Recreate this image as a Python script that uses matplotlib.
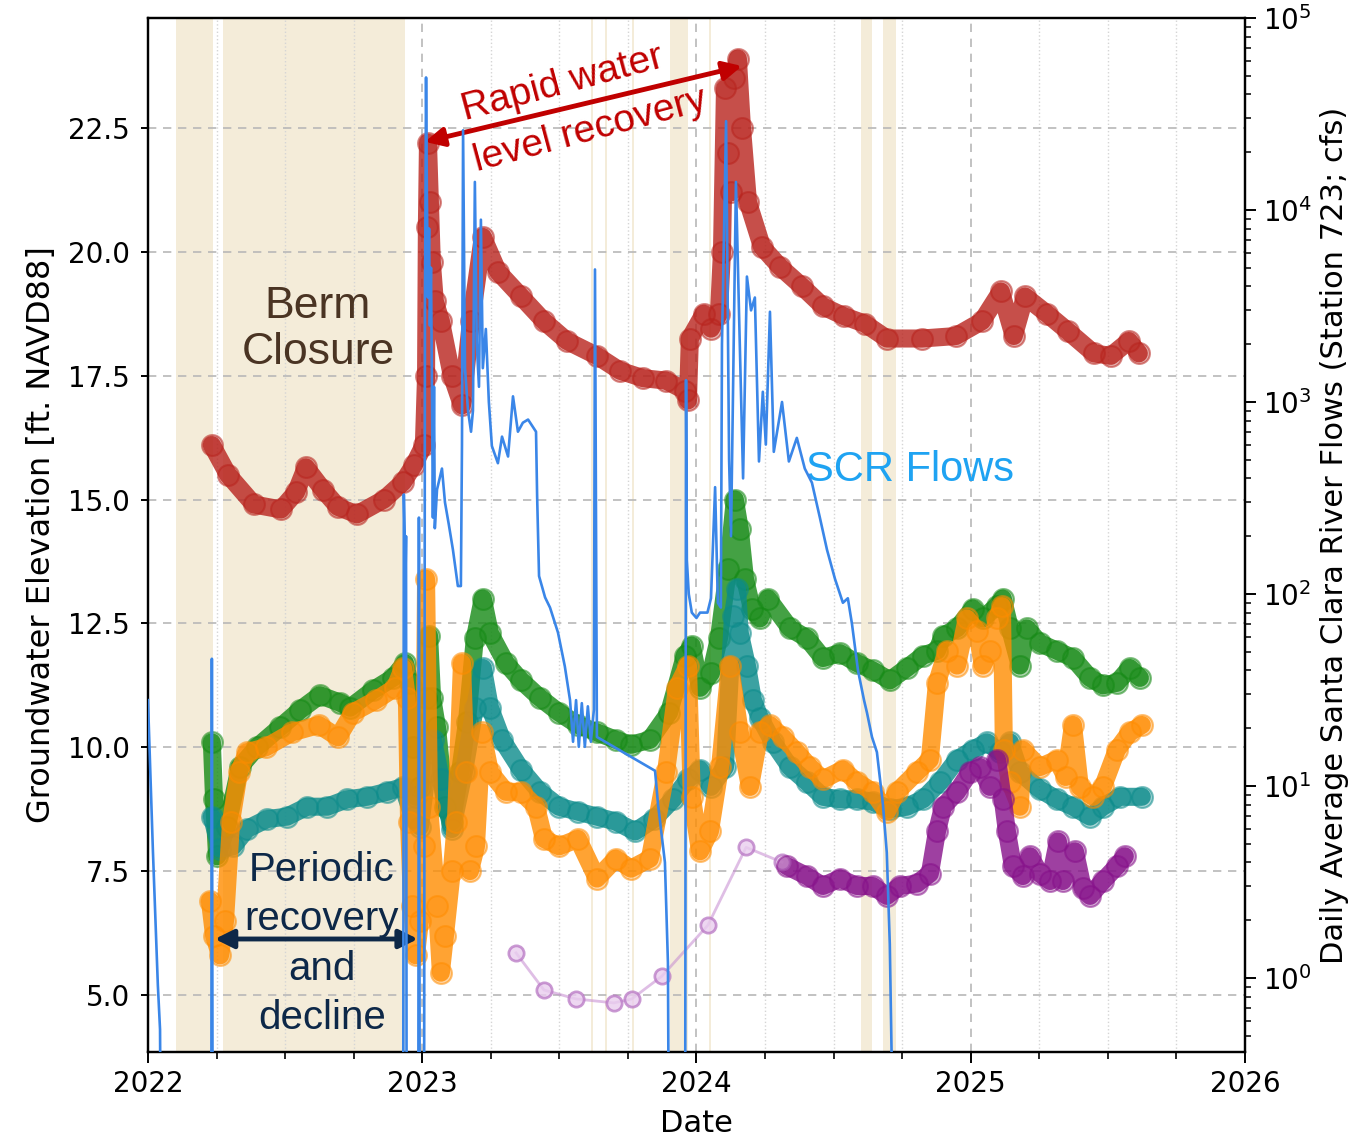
import numpy as np
import matplotlib
matplotlib.use("Agg")
import matplotlib.pyplot as plt
from matplotlib.colors import to_rgba
from matplotlib.ticker import MultipleLocator, LogLocator, NullFormatter

# ---------------- data (decimal years) ----------------
year_ticks = [2022, 2023, 2024, 2025, 2026]
year_labels = ["2022", "2023", "2024", "2025", "2026"]
left_ticks = [5.0, 7.5, 10.0, 12.5, 15.0, 17.5, 20.0, 22.5]

red_t = [2022.233, 2022.292, 2022.386, 2022.485, 2022.540, 2022.576, 2022.638, 2022.693, 2022.762, 2022.860, 2022.930, 2022.970,
         2023.006, 2023.014, 2023.017, 2023.021, 2023.028, 2023.035, 2023.046, 2023.068, 2023.108, 2023.145, 2023.178, 2023.221,
         2023.276, 2023.360, 2023.444, 2023.528, 2023.637, 2023.721, 2023.805, 2023.889, 2023.958, 2023.969, 2023.976,
         2024.027, 2024.053, 2024.082, 2024.093, 2024.104, 2024.115, 2024.126, 2024.137, 2024.151, 2024.166, 2024.188, 2024.239,
         2024.304, 2024.385, 2024.461, 2024.538, 2024.614, 2024.694, 2024.822, 2024.946,
         2025.041, 2025.110, 2025.157, 2025.198, 2025.278, 2025.354, 2025.449, 2025.511, 2025.577, 2025.613]
red_v = [16.1, 15.5, 14.9, 14.8, 15.15, 15.65, 15.2, 14.85, 14.7, 15.0, 15.35, 15.7,
         16.1, 17.5, 20.5, 22.2, 21.0, 19.8, 19.0, 18.6, 17.5, 16.9, 18.6, 20.3,
         19.6, 19.1, 18.6, 18.2, 17.9, 17.6, 17.45, 17.4, 17.2, 17.0, 18.25,
         18.75, 18.45, 18.75, 20.0, 23.3, 22.0, 21.2, 23.5, 23.9, 22.5, 21.0, 20.1,
         19.7, 19.3, 18.9, 18.7, 18.55, 18.25, 18.25, 18.3,
         18.6, 19.2, 18.3, 19.1, 18.75, 18.4, 17.95, 17.9, 18.2, 17.95]

green_t = [2022.233, 2022.241, 2022.252, 2022.288, 2022.335, 2022.397, 2022.481, 2022.554, 2022.627, 2022.700, 2022.737, 2022.820,
           2022.893, 2022.937, 2022.955, 2022.966, 2022.977, 2022.992,
           2023.014, 2023.025, 2023.036, 2023.054, 2023.083, 2023.108, 2023.138, 2023.163, 2023.192, 2023.221, 2023.247, 2023.305,
           2023.360, 2023.429, 2023.499, 2023.568, 2023.637, 2023.706, 2023.761, 2023.830, 2023.900, 2023.958, 2023.983,
           2024.013, 2024.053, 2024.082, 2024.115, 2024.140, 2024.158, 2024.177, 2024.202, 2024.231, 2024.261, 2024.341, 2024.403,
           2024.461, 2024.523, 2024.585, 2024.643, 2024.705, 2024.767, 2024.826, 2024.877, 2024.899, 2024.950,
           2025.008, 2025.044, 2025.096, 2025.117, 2025.143, 2025.179, 2025.205, 2025.252, 2025.314, 2025.373, 2025.435, 2025.482,
           2025.533, 2025.580, 2025.617]
green_v = [10.1, 8.95, 7.8, 8.4, 9.6, 10.0, 10.4, 10.75, 11.05, 10.9, 10.8, 11.15,
           11.4, 11.7, 11.3, 10.0, 9.0, 9.2,
           11.0, 12.25, 11.0, 10.4, 8.8, 8.5, 9.5, 10.5, 12.2, 13.0, 12.3, 11.7,
           11.35, 11.0, 10.7, 10.45, 10.3, 10.15, 10.05, 10.15, 10.7, 11.85, 12.05,
           11.2, 11.5, 12.2, 13.6, 15.0, 14.4, 13.4, 12.8, 12.6, 13.0, 12.4, 12.2,
           11.8, 11.9, 11.7, 11.55, 11.35, 11.6, 11.85, 11.95, 12.25, 12.4,
           12.8, 12.6, 12.85, 13.0, 12.4, 11.65, 12.4, 12.1, 11.95, 11.8, 11.4, 11.25,
           11.3, 11.6, 11.4]

orange_t = [2022.226, 2022.241, 2022.263, 2022.281, 2022.303, 2022.332, 2022.361, 2022.430, 2022.525, 2022.623, 2022.693, 2022.747,
            2022.831, 2022.901, 2022.930, 2022.944, 2022.952, 2022.963, 2022.977, 2022.992,
            2023.006, 2023.014, 2023.025, 2023.054, 2023.068, 2023.083, 2023.108, 2023.123, 2023.145, 2023.159, 2023.174, 2023.196,
            2023.218, 2023.247, 2023.305, 2023.360, 2023.415, 2023.444, 2023.499, 2023.568, 2023.637, 2023.706, 2023.761, 2023.830,
            2023.889, 2023.929, 2023.969, 2023.983,
            2024.013, 2024.049, 2024.086, 2024.122, 2024.158, 2024.195, 2024.231, 2024.268, 2024.315, 2024.366, 2024.414, 2024.461,
            2024.534, 2024.585, 2024.643, 2024.694, 2024.731, 2024.804, 2024.851, 2024.877, 2024.913, 2024.950, 2024.986,
            2025.023, 2025.044, 2025.070, 2025.096, 2025.114, 2025.121, 2025.143, 2025.179, 2025.190, 2025.252, 2025.314, 2025.346,
            2025.373, 2025.398, 2025.446, 2025.482, 2025.533, 2025.580, 2025.624]
orange_v = [6.9, 6.2, 5.8, 6.5, 8.5, 9.5, 9.9, 10.0, 10.3, 10.45, 10.2, 10.7,
            10.95, 11.2, 11.6, 11.0, 8.5, 6.8, 5.8, 6.5,
            8.0, 13.4, 8.8, 6.8, 5.45, 6.2, 7.5, 8.5, 11.7, 9.5, 7.5, 8.0,
            10.3, 9.5, 9.1, 9.1, 8.8, 8.15, 8.0, 8.15, 7.35, 7.75, 7.55, 7.75,
            9.5, 11.2, 11.65, 9.0,
            7.9, 8.3, 9.6, 11.65, 10.3, 9.2, 10.3, 10.45, 10.2, 9.9, 9.6, 9.35,
            9.55, 9.3, 9.1, 8.7, 9.1, 9.5, 9.75, 11.3, 11.95, 11.65, 12.6,
            12.35, 11.65, 11.95, 12.6, 12.85, 9.95, 9.3, 8.8, 9.95, 9.6, 9.75, 9.4,
            10.45, 9.2, 9.0, 9.2, 9.95, 10.3, 10.45]

teal_t = [2022.233, 2022.263, 2022.310, 2022.361, 2022.434, 2022.507, 2022.580, 2022.653, 2022.726, 2022.798, 2022.871, 2022.930,
          2022.966, 2022.992,
          2023.017, 2023.039, 2023.068, 2023.108, 2023.152, 2023.192, 2023.221, 2023.247, 2023.291, 2023.360, 2023.429, 2023.499,
          2023.568, 2023.637, 2023.706, 2023.776, 2023.845, 2023.914, 2023.969,
          2024.013, 2024.053, 2024.104, 2024.133, 2024.148, 2024.158, 2024.184, 2024.206, 2024.231, 2024.279, 2024.341, 2024.403,
          2024.461, 2024.523, 2024.585, 2024.643, 2024.705, 2024.767, 2024.826, 2024.888, 2024.950,
          2025.008, 2025.059, 2025.107, 2025.143, 2025.179, 2025.252, 2025.314, 2025.373, 2025.435, 2025.482, 2025.544, 2025.624]
teal_v = [8.6, 7.95, 8.0, 8.35, 8.55, 8.6, 8.8, 8.8, 8.95, 9.0, 9.1, 9.2,
          8.6, 8.4,
          9.5, 10.15, 9.35, 8.35, 9.5, 10.8, 11.6, 10.8, 10.15, 9.55, 9.1, 8.8,
          8.7, 8.6, 8.5, 8.3, 8.55, 8.95, 9.35,
          9.55, 9.2, 9.6, 12.65, 13.2, 12.3, 11.65, 10.95, 10.6, 10.1, 9.6, 9.3,
          9.0, 8.95, 8.95, 8.9, 8.75, 8.8, 8.95, 9.3, 9.75,
          9.95, 10.1, 9.9, 10.1, 9.5, 9.15, 8.95, 8.8, 8.6, 8.8, 9.0, 9.0]

purple_t = [2024.330, 2024.403, 2024.461, 2024.523, 2024.585, 2024.643, 2024.694, 2024.742, 2024.804, 2024.851,
            2024.877, 2024.899, 2024.950, 2024.997, 2025.034, 2025.070, 2025.096, 2025.117, 2025.132, 2025.154,
            2025.190, 2025.216, 2025.252, 2025.289, 2025.318, 2025.336, 2025.380, 2025.409, 2025.435, 2025.482,
            2025.533, 2025.562]
purple_v = [7.6, 7.4, 7.2, 7.35, 7.2, 7.2, 7.0, 7.2, 7.25, 7.45,
            8.3, 8.8, 9.1, 9.5, 9.6, 9.2, 9.75, 8.95, 8.3, 7.6,
            7.4, 7.8, 7.45, 7.3, 8.1, 7.3, 7.9, 7.15, 7.0, 7.3,
            7.6, 7.8]

plum_t = [2023.342, 2023.444, 2023.561, 2023.699, 2023.764, 2023.874, 2024.042, 2024.181, 2024.312]
plum_v = [5.85, 5.1, 4.92, 4.84, 4.92, 5.38, 6.41, 7.98, 7.68]

# Santa Clara River daily flow, cfs (0.01 = no flow, below axis)
flow_t = [2022.000, 2022.018, 2022.036, 2022.044, 2022.051, 2022.230, 2022.233, 2022.237,
          2022.930, 2022.933, 2022.939, 2022.941, 2022.944, 2022.985, 2022.988, 2022.992,
          2023.006, 2023.010, 2023.014, 2023.017, 2023.021, 2023.025, 2023.028, 2023.032, 2023.035, 2023.039,
          2023.043, 2023.046, 2023.054, 2023.072, 2023.083, 2023.097, 2023.112, 2023.130, 2023.141, 2023.145,
          2023.149, 2023.156, 2023.167, 2023.178, 2023.185, 2023.192, 2023.199, 2023.207, 2023.214, 2023.221,
          2023.232, 2023.243, 2023.254, 2023.276, 2023.291, 2023.313, 2023.331, 2023.349, 2023.367, 2023.386,
          2023.404, 2023.415, 2023.419, 2023.426, 2023.448, 2023.466, 2023.495, 2023.520, 2023.539, 2023.550,
          2023.561, 2023.571, 2023.582, 2023.593, 2023.604, 2023.615, 2023.626, 2023.630, 2023.637, 2023.849,
          2023.860, 2023.885, 2023.896, 2023.903, 2023.958, 2023.962, 2023.965, 2023.972, 2023.983, 2024.000,
          2024.013, 2024.040, 2024.053, 2024.068, 2024.078, 2024.089, 2024.093, 2024.108, 2024.119, 2024.126,
          2024.144, 2024.155, 2024.170, 2024.184, 2024.199, 2024.213, 2024.228, 2024.242, 2024.253, 2024.268,
          2024.282, 2024.312, 2024.337, 2024.366, 2024.395, 2024.421, 2024.450, 2024.476, 2024.505, 2024.534,
          2024.552, 2024.567, 2024.589, 2024.611, 2024.622, 2024.640, 2024.658, 2024.680, 2024.694, 2024.705,
          2024.713, 2024.720, 2025.620]
flow_q = [28, 4.6, 0.92, 0.54, 0.01, 0.01, 46, 0.01,
          0.01, 330, 120, 200, 0.01, 0.01, 250, 0.01,
          0.01, 3000, 49000, 12000, 3500, 8000, 2500, 5000, 1500, 250,
          1200, 220, 350, 450, 300, 230, 170, 110, 110, 600,
          26000, 1500, 900, 700, 900, 14000, 2000, 1200, 8900, 1500,
          2400, 1000, 590, 480, 660, 520, 1070, 700, 780, 810,
          740, 700, 325, 124, 96, 85, 63, 42, 28, 17,
          28, 16, 27, 16, 26, 17, 25, 4900, 18, 12,
          8, 4, 1.2, 0.01, 0.01, 1300, 150, 100, 80, 75,
          80, 80, 95, 360, 90, 85, 2000, 29000, 500, 200,
          14000, 3000, 400, 4500, 3000, 3500, 490, 1130, 600, 2950,
          550, 1000, 490, 650, 450, 380, 250, 170, 120, 90,
          95, 70, 40, 28, 24, 18, 15, 8, 4.5, 1.5,
          0.3, 0.01, 0.01]

# shaded berm-closure periods
shade_spans = [(2022.102, 2022.236), (2022.275, 2022.936), (2023.616, 2023.623), (2023.667, 2023.674),
               (2023.765, 2023.771), (2023.903, 2023.968), (2024.046, 2024.052), (2024.600, 2024.640),
               (2024.680, 2024.727)]

# ---------------- figure ----------------
plt.rcParams['font.family'] = ['DejaVu Sans']
fig = plt.figure(figsize=(13.6, 11.37), dpi=100)
ax = fig.add_axes([0.1088, 0.0748, 0.8066, 0.9094])
ax.set_xlim(2022, 2026)
ax.set_ylim(3.85, 24.72)

for a, b in shade_spans:
    ax.axvspan(a, b, color='#f4ecd9', lw=0, zorder=0)

ax.set_xticks(year_ticks)
ax.set_xticklabels(year_labels)
ax.xaxis.set_minor_locator(MultipleLocator(0.25))
ax.set_yticks(left_ticks)
ax.set_yticklabels([f"{v:.1f}" for v in left_ticks])
ax.set_axisbelow(True)
ax.grid(True, which='major', ls=(0, (5, 4)), color='#b8b8b8', lw=1.2)
ax.grid(True, which='minor', axis='x', ls=':', color='#d5d5d5', lw=1.0)

def draw(t, v, c, z):
    ax.plot(t, v, '-', color=c, lw=13, alpha=0.8, solid_capstyle='round',
            solid_joinstyle='round', zorder=z)
    ax.plot(t, v, 'o', ls='none', ms=15, mfc=to_rgba(c, 0.35), mec=to_rgba(c, 0.55),
            mew=1.5, zorder=z + 0.1)

draw(red_t, red_v, '#b8231d', 2)
draw(green_t, green_v, '#158a15', 3)
draw(teal_t, teal_v, '#0b8b8b', 4)
draw(orange_t, orange_v, '#ff8c00', 5)
draw(purple_t, purple_v, '#86108a', 6)
ax.plot(plum_t, plum_v, '-o', color=to_rgba('#c58ad0', 0.55), lw=2, ms=11,
        mfc=to_rgba('#e9cdee', 0.8), mec=to_rgba('#b877c4', 0.75), mew=2, zorder=6)

for s in ax.spines.values():
    s.set_linewidth(1.6)
ax.tick_params(axis='both', which='major', labelsize=20, width=1.4)
ax.tick_params(axis='y', which='major', length=5, pad=8)
ax.tick_params(axis='x', which='major', length=8, pad=5)
ax.tick_params(axis='x', which='minor', length=5, width=1.2)
ax.set_xlabel('Date', fontsize=22, labelpad=8)
ax.set_ylabel('Groundwater Elevation [ft. NAVD88]', fontsize=23, labelpad=8)

# river flow axis
ax2 = ax.twinx()
ax2.set_yscale('log')
ax2.set_ylim(0.412, 1e5)
ax2.plot(flow_t, flow_q, color='#3a86e8', lw=1.9, zorder=5)
ax2.yaxis.set_major_locator(LogLocator(base=10, numticks=10))
ax2.yaxis.set_minor_locator(LogLocator(base=10, subs=np.arange(2, 10), numticks=20))
ax2.yaxis.set_minor_formatter(NullFormatter())
ax2.tick_params(axis='y', which='major', labelsize=20, length=8, width=1.4, pad=5)
ax2.tick_params(axis='y', which='minor', length=4.5, width=1.1)
ax2.set_ylabel('Daily Average Santa Clara River Flows (Station 723; cfs)', fontsize=22, labelpad=6)
for s in ax2.spines.values():
    s.set_linewidth(1.6)

# annotations
ann_font = ['Liberation Sans', 'DejaVu Sans']
ax.text(2022.620, 18.43, 'Berm\nClosure', fontsize=32, color='#4a3423', ha='center', va='center',
        family=ann_font, linespacing=1.15, zorder=10)
ax.text(2022.634, 6.03, 'Periodic\nrecovery\nand\ndecline', fontsize=29, color='#0d2848', ha='center',
        va='center', family=ann_font, linespacing=1.38, zorder=10)
ax.annotate('', xy=(2022.244, 6.13), xytext=(2022.984, 6.13),
            arrowprops=dict(arrowstyle='<|-|>', color='#0d2848', lw=3.5, mutation_scale=28,
                            shrinkA=0, shrinkB=0), zorder=10)
ax.text(2024.778, 15.6, 'SCR Flows', fontsize=30, color='#1fa3f2', ha='center', va='center',
        family=ann_font, zorder=10)
ax.text(2023.513, 23.39, 'Rapid water', fontsize=28, color='#c00000', ha='center',
        va='center', rotation=15, rotation_mode='anchor', family=ann_font, zorder=10)
ax.text(2023.612, 22.45, 'level recovery', fontsize=28, color='#c00000', ha='center',
        va='center', rotation=15, rotation_mode='anchor', family=ann_font, zorder=10)
ax.annotate('', xy=(2023.010, 22.22), xytext=(2024.166, 23.75),
            arrowprops=dict(arrowstyle='<|-|>', color='#c00000', lw=3.5, mutation_scale=28,
                            shrinkA=0, shrinkB=0), zorder=10)

fig.savefig('out.png', dpi=100)
